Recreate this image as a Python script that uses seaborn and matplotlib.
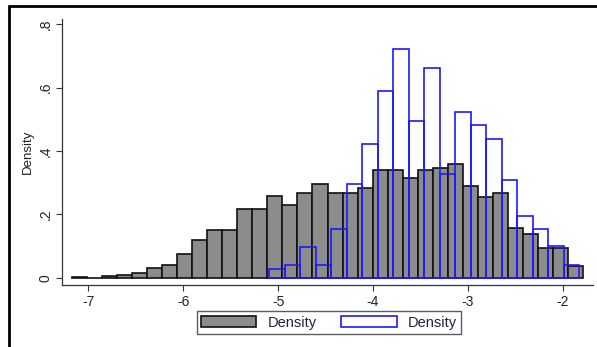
import numpy as np
import pandas as pd
import seaborn as sns
import matplotlib
matplotlib.use("Agg")
import matplotlib.pyplot as plt
from matplotlib.patches import Patch
from matplotlib.lines import Line2D

# Density of each bin, first distribution (gray bars)
gray_density = [0.003, 0.0, 0.005, 0.0075, 0.015, 0.031, 0.040, 0.076, 0.119,
                0.151, 0.151, 0.218, 0.218, 0.257, 0.229, 0.267, 0.296, 0.266,
                0.266, 0.283, 0.339, 0.339, 0.316, 0.339, 0.345, 0.358, 0.291,
                0.255, 0.267, 0.157, 0.138, 0.093, 0.093, 0.037]
gray_start, gray_width = -7.175, 0.15856

# Density of each bin, second distribution (blue outline bars)
blue_density = [0.028, 0.041, 0.098, 0.040, 0.154, 0.297, 0.423, 0.590, 0.721,
                0.496, 0.662, 0.326, 0.524, 0.481, 0.437, 0.308, 0.196, 0.154,
                0.100, 0.040]
blue_start, blue_width = -5.093, 0.1633

x_ticks = [-7, -6, -5, -4, -3, -2]
y_ticks = [0, 0.2, 0.4, 0.6, 0.8]
y_tick_labels = ["0", ".2", ".4", ".6", ".8"]
legend_labels = ["Density", "Density"]


def bin_table(density, start, width):
    n = len(density)
    edges = start + width * np.arange(n + 1)
    centers = (edges[:-1] + edges[1:]) / 2
    return pd.DataFrame({"x": centers, "w": density}), [float(e) for e in edges]


gray_df, gray_edges = bin_table(gray_density, gray_start, gray_width)
blue_df, blue_edges = bin_table(blue_density, blue_start, blue_width)

sns.set_style("white")
plt.rcParams["font.family"] = ["Liberation Sans", "DejaVu Sans"]

fig = plt.figure(figsize=(5.97, 3.47), dpi=100)
ax = fig.add_axes([0.1039, 0.1787, 0.8894, 0.7665])

sns.histplot(data=gray_df, x="x", weights="w", bins=gray_edges, stat="count",
             color="#8c8c8c", alpha=1, edgecolor="#111111", linewidth=1.2, ax=ax)
n_gray = len(ax.patches)
sns.histplot(data=blue_df, x="x", weights="w", bins=blue_edges, stat="count",
             fill=False, element="bars", color="#1a1aff", linewidth=1.2, ax=ax)
for p in ax.patches[n_gray:]:
    p.set_edgecolor("#1a1aff")
    p.set_facecolor("none")

ax.set_xlim(-7.277, -1.682)
ax.set_ylim(-0.023, 0.817)
ax.set_xticks(x_ticks)
ax.set_xticklabels([str(t) for t in x_ticks], fontsize=10, color="#222222")
ax.set_yticks(y_ticks)
ax.set_yticklabels(y_tick_labels, fontsize=10, color="#222222", rotation=90,
                   va="center")
ax.set_xlabel("")
ax.set_ylabel("Density", fontsize=9.5, color="#222222", labelpad=3)

for side in ("top", "right"):
    ax.spines[side].set_visible(False)
for side in ("left", "bottom"):
    ax.spines[side].set_color("#333333")
    ax.spines[side].set_linewidth(0.9)
ax.tick_params(axis="both", direction="out", length=4, width=0.8,
               color="#333333", pad=3, left=True, bottom=True)

handles = [Patch(facecolor="#8c8c8c", edgecolor="#111111", linewidth=1.2),
           Patch(facecolor="white", edgecolor="#1a1aff", linewidth=1.2)]
fig.legend(handles, legend_labels, loc="center", ncol=2,
           bbox_to_anchor=(0.551, 0.0706), fontsize=10.5, frameon=True,
           fancybox=False, edgecolor="#333333", handlelength=3.8,
           handleheight=0.75, columnspacing=1.7, handletextpad=0.75,
           borderpad=0.3, labelcolor="#222244")

# Frame lines along the top and left edges
fig.add_artist(Line2D([8.5 / 597, 1.0], [1 - 6 / 347, 1 - 6 / 347],
                      transform=fig.transFigure, color="black", lw=2.0))
fig.add_artist(Line2D([8.5 / 597, 8.5 / 597], [0.0, 1 - 6 / 347],
                      transform=fig.transFigure, color="black", lw=2.0))

fig.savefig("out.png", dpi=100)
